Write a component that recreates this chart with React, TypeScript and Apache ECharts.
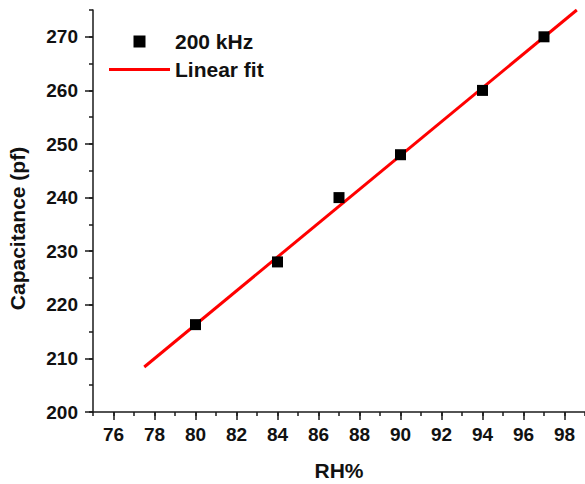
import React, { useEffect, useRef } from 'react';
import * as echarts from 'echarts';

const seriesNames = ['200 kHz', 'Linear fit'];
const rhValues = [80, 84, 87, 90, 94, 97];
const capValues = [216.3, 228, 240, 248, 260, 270];
const fitRh = [77.5, 98.6];
const fitCap = [208.4, 275];
const xTickLabels = [76, 78, 80, 82, 84, 86, 88, 90, 92, 94, 96, 98];
const yTickLabels = [200, 210, 220, 230, 240, 250, 260, 270];

const FONT = "'Liberation Sans', Arial, sans-serif";
const AXIS_COLOR = '#1a1a1a';

export default function App() {
  const ref = useRef<HTMLDivElement>(null);
  useEffect(() => {
    if (!ref.current) return;
    const chart = echarts.init(ref.current, null, { renderer: 'svg' });
    const axisLine = { show: true, lineStyle: { color: AXIS_COLOR, width: 1.5 } };
    chart.setOption({
      animation: false,
      backgroundColor: '#ffffff',
      grid: { left: 93, right: 0, top: 10, bottom: 72, outerBoundsMode: 'none', containLabel: false },
      legend: {
        orient: 'vertical',
        left: 109,
        top: 31,
        padding: 0,
        itemWidth: 61,
        itemHeight: 12,
        itemGap: 7,
        textStyle: { fontFamily: FONT, fontWeight: 'bold', fontSize: 21, lineHeight: 20, color: '#111' },
        data: [
          { name: seriesNames[0], icon: 'path://M0,0H10V10H0Z', itemStyle: { color: '#000000', opacity: 1 } },
          { name: seriesNames[1], icon: 'path://M0,0H61V3H0Z', itemStyle: { color: '#ff0000' } },
        ],
      },
      xAxis: [
        {
          type: 'value',
          min: 75,
          max: 99,
          position: 'bottom',
          name: 'RH%',
          nameLocation: 'middle',
          nameGap: 47,
          nameTextStyle: { fontFamily: FONT, fontWeight: 'bold', fontSize: 21, lineHeight: 22, color: '#111' },
          axisLine,
          axisTick: { show: true, inside: false, length: 8, lineStyle: { color: AXIS_COLOR, width: 1.5 }, customValues: xTickLabels },
          axisLabel: { show: true, margin: 13, fontFamily: FONT, fontWeight: 'bold', fontSize: 19, color: '#111', customValues: xTickLabels },
          splitLine: { show: false },
        },
        {
          type: 'value',
          min: 75,
          max: 99,
          interval: 1,
          position: 'bottom',
          offset: 0,
          axisLine: { show: false },
          axisTick: { show: true, inside: false, length: 4, lineStyle: { color: AXIS_COLOR, width: 1.5 } },
          axisLabel: { show: false },
          splitLine: { show: false },
        },
      ],
      yAxis: [
        {
          type: 'value',
          min: 200,
          max: 275,
          interval: 10,
          position: 'left',
          name: 'Capacitance (pf)',
          nameLocation: 'middle',
          nameGap: 65,
          nameTextStyle: { fontFamily: FONT, fontWeight: 'bold', fontSize: 21, color: '#111', padding: [0, 35, 0, 0] },
          axisLine,
          axisTick: { show: true, inside: false, length: 8, lineStyle: { color: AXIS_COLOR, width: 1.5 }, customValues: yTickLabels },
          axisLabel: { show: true, margin: 15, fontFamily: FONT, fontWeight: 'bold', fontSize: 19, color: '#111', customValues: yTickLabels },
          splitLine: { show: false },
        },
        {
          type: 'value',
          min: 200,
          max: 275,
          interval: 5,
          position: 'left',
          offset: 0,
          axisLine: { show: false },
          axisTick: { show: true, inside: false, length: 4, lineStyle: { color: AXIS_COLOR, width: 1.5 } },
          axisLabel: { show: false },
          splitLine: { show: false },
        },
      ],
      series: [
        {
          name: seriesNames[0],
          type: 'scatter',
          symbol: 'rect',
          symbolSize: 11,
          itemStyle: { color: '#000000', opacity: 1 },
          data: rhValues.map((x, i) => [x, capValues[i]]),
          z: 3,
        },
        {
          name: seriesNames[1],
          type: 'line',
          symbol: 'none',
          showSymbol: false,
          lineStyle: { color: '#ff0000', width: 3 },
          itemStyle: { color: '#ff0000' },
          data: fitRh.map((x, i) => [x, fitCap[i]]),
          z: 2,
        },
      ],
    });
    return () => chart.dispose();
  }, []);
  return <div ref={ref} style={{ position: 'fixed', left: 0, top: 0, width: 585, height: 484 }} />;
}
